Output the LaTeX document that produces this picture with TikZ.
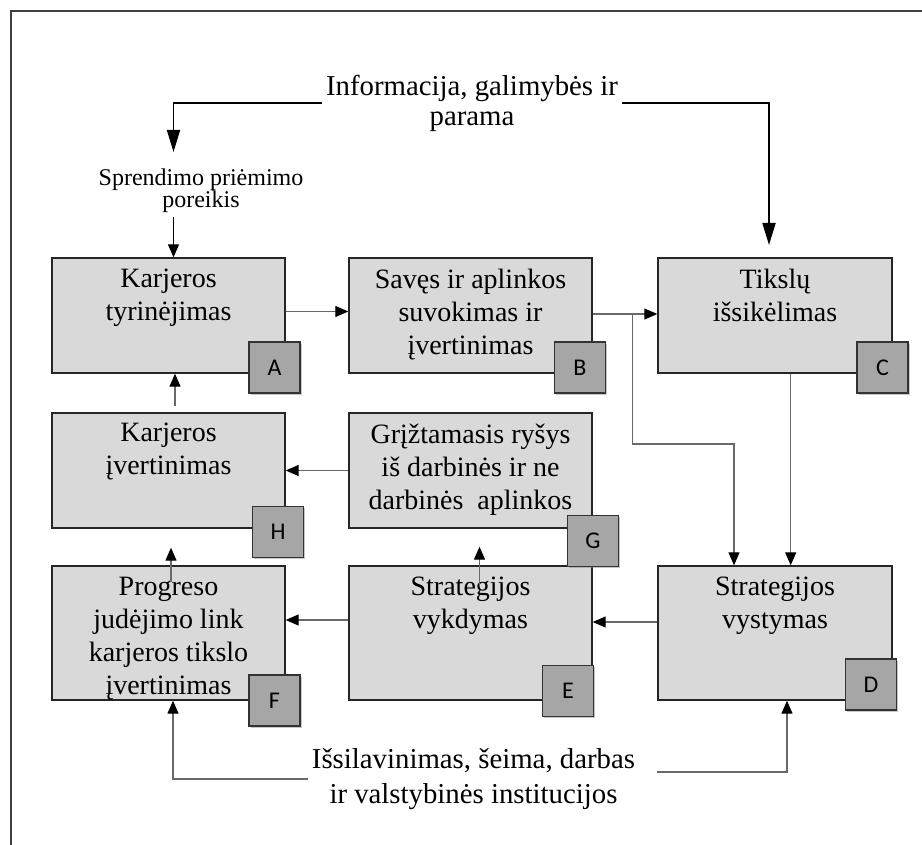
\documentclass[tikz,border=0pt]{standalone}
\usepackage{fontspec}
\setmainfont{Liberation Serif}
\newfontfamily\tagfont{Carlito}
\usetikzlibrary{positioning,arrows.meta,shadows}

\definecolor{boxgray}{RGB}{217,217,217}
\definecolor{taggray}{RGB}{166,166,166}
\definecolor{linegray}{RGB}{105,105,105}

\tikzset{
  frame/.style={draw=black!75, line width=1pt},
  stage/.style={draw=black!85, fill=boxgray, line width=0.7pt, inner sep=0pt},
  upper/.style={minimum height=57.5pt},
  lower/.style={minimum height=67pt},
  stagetext/.style={align=center, inner sep=0pt, font=\fontsize{14}{16.5}\selectfont},
  outer/.style={align=center, inner sep=2pt, font=\fontsize{14.4}{15}\selectfont},
  tag/.style={draw=black!80, fill=taggray, line width=0.8pt, minimum size=25.5pt,
    inner sep=0pt, font=\tagfont\fontsize{12}{12}\selectfont,
    drop shadow={shadow xshift=0.8pt, shadow yshift=-0.8pt, opacity=0.45}},
  flow/.style={draw=linegray, line width=0.65pt,
    -{Triangle[length=6.5pt,width=5.5pt,color=black]}},
  topflow/.style={draw=black, line width=0.9pt,
    -{Triangle[length=11pt,width=6.5pt]}}
}

\begin{document}
\begin{tikzpicture}[x=0.5pt,y=-0.5pt]
\useasboundingbox (0,0) rectangle (922,845);

% outer frame (open on right and bottom)
\draw[frame] (11,845) -- (11,11) -- (922,11);

% stage boxes, upper row
\node[stage, upper, minimum width=116.5pt] (A) at (168.5,315.5) {};
\node[stage, upper, minimum width=121.5pt] (B) at (470.5,315.5) {};
\node[stage, upper, minimum width=117pt] (C) at (775,315.5) {};
% middle row
\node[stage, upper, minimum width=116.5pt] (H) at (168.5,470.5) {};
\node[stage, upper, minimum width=121.5pt] (G) at (470.5,470.5) {};
% lower row
\node[stage, lower, minimum width=116.5pt] (F) at (168.5,633) {};
\node[stage, lower, minimum width=121.5pt] (E) at (470.5,633) {};
\node[stage, lower, minimum width=117pt] (D) at (775,633) {};

% box texts
\node[stagetext, below=5.5pt of A.north] (Atext) {Karjeros\\tyrinėjimas};
\node[stagetext, below=5.5pt of B.north] (Btext) {Savęs ir aplinkos\\suvokimas ir\\įvertinimas};
\node[stagetext, below=5.5pt of C.north] (Ctext) {Tikslų\\išsikėlimas};
\node[stagetext, below=5pt of H.north] (Htext) {Karjeros\\įvertinimas};
\node[stagetext, below=5.5pt of G.north] (Gtext) {Grįžtamasis ryšys\\iš darbinės ir ne\\darbinės~ aplinkos};
\node[stagetext, below=5.5pt of F.north] (Ftext) {Progreso\\judėjimo link\\karjeros tikslo\\įvertinimas};
\node[stagetext, below=5.5pt of E.north] (Etext) {Strategijos\\vykdymas};
\node[stagetext, below=5.5pt of D.north] (Dtext) {Strategijos\\vystymas};

% letter tags
\node[tag] (tagA) at (274.5,367.5) {A};
\node[tag] (tagB) at (580,367.5) {B};
\node[tag] (tagC) at (882.5,367.5) {C};
\node[tag] (tagH) at (278,532) {H};
\node[tag] (tagG) at (593,541) {G};
\node[tag] (tagF) at (274.5,700.5) {F};
\node[tag] (tagE) at (568,691) {E};
\node[tag] (tagD) at (871,684.5) {D};

% outside texts
\node[outer] (info) at (472,103) {Informacija, galimybės ir\\parama};
\node[outer, font=\fontsize{12}{11}\selectfont] (need) at (201,191) {Sprendimo priėmimo\\poreikis};
\node[outer, font=\fontsize{14.4}{17.5}\selectfont] (inst) at (473.5,779) {Išsilavinimas, šeima, darbas\\ir valstybinės institucijos};

\coordinate (needin) at (173.5,152);
\coordinate (goalin) at (769,245);
\coordinate (split) at (632.5,314);
\coordinate (turn) at (734,444);

% information and support
\draw[topflow] (info.west) -| (needin);
\draw[topflow] (info.east) -| (goalin);
\draw[flow, draw=black] (need.south -| needin) -- (A.north -| needin);

% cycle
\draw[flow] ([yshift=2pt]A.east) -- ([yshift=2pt]B.west);
\draw[flow] ([yshift=0.75pt]B.east) -- ([yshift=0.75pt]C.west);
\draw[flow] (split) |- (turn) -- (turn |- D.north);
\draw[flow] ([xshift=7.85pt]C.south) -- ([xshift=7.85pt]D.north);
\draw[flow] ([yshift=5.5pt]D.west) -- ([yshift=5.5pt]E.east);
\draw[flow] ([yshift=6.5pt]E.west) -- ([yshift=6.5pt]F.east);
\draw[flow] ([xshift=4.5pt,yshift=-11pt]E.north) -- ([xshift=4.5pt,yshift=-9pt]G.south);
\draw[flow] (G.west) -- (H.east);
\draw[flow] ([xshift=1.25pt,yshift=-8.5pt]F.north) -- ([xshift=1.25pt,yshift=-9.5pt]H.south);
\draw[flow] ([xshift=3.25pt,yshift=3pt]H.north) -- ([xshift=3.25pt]A.south);

% education, family, work
\draw[flow] (inst.west) -| ([xshift=2.25pt]F.south);
\draw[flow] ([xshift=9pt,yshift=3.5pt]inst.east) -| ([xshift=6pt]D.south);
\end{tikzpicture}
\end{document}
